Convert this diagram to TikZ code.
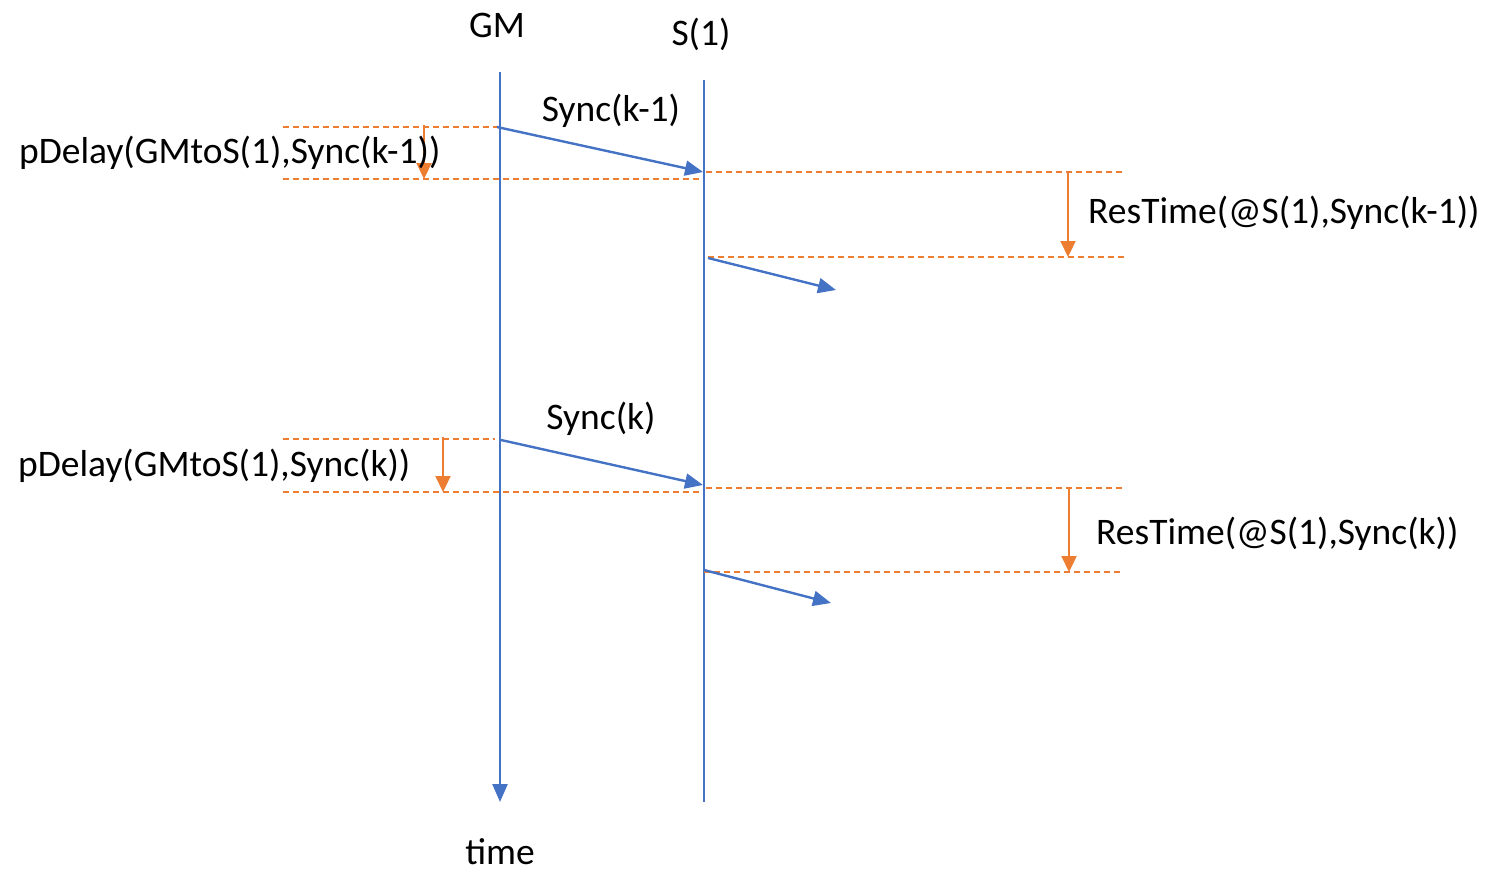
\documentclass[tikz,border=0pt]{standalone}
\usepackage{fontspec}
\setmainfont{Carlito}
\usetikzlibrary{arrows.meta}
\definecolor{lineblue}{HTML}{4472C4}
\definecolor{markorange}{HTML}{ED7D31}
\begin{document}
\begin{tikzpicture}[x=1pt,y=-1pt,
  lbl/.style={font=\fontsize{37.5}{44}\selectfont, inner sep=0pt},
  lifeline/.style={draw=lineblue, line width=2.2pt},
  msg/.style={draw=lineblue, line width=2.4pt, -{Triangle[length=18pt,width=15pt]}},
  guide/.style={draw=markorange, line width=1.3pt, dash pattern=on 6pt off 4pt},
  span/.style={draw=markorange, line width=2.2pt, -{Triangle[length=16pt,width=15pt]}}]
\useasboundingbox (0,0) rectangle (1506,871);

% lifelines
\coordinate (gmtop) at (500,72);
\coordinate (gmbot) at (500,802);
\coordinate (s1top) at (704,80);
\coordinate (s1bot) at (704,802);
\draw[msg] (gmtop) -- (gmbot);
\draw[lifeline] (s1top) -- (s1bot);
\node[lbl] (gm) at (497,25) {GM};
\node[lbl] (s1) at (701,34) {S(1)};
\node[lbl, anchor=base] (time) at (500,864) {time};

% ---- Sync(k-1) ----
\coordinate (a1) at (497,127);
\coordinate (b1) at (703,172);
\draw[msg] (a1) -- (b1);
\node[lbl] (synck1) at (611,111) {Sync(k-1)};

\coordinate (g1l) at (283,127); \coordinate (g1r) at (497,127);
\coordinate (g2l) at (283,179); \coordinate (g2r) at (700,179);
\draw[guide] (g1l) -- (g1r);
\draw[guide] (g2l) -- (g2r);
\coordinate (p1t) at (424,125); \coordinate (p1b) at (424,179);
\draw[span] (p1t) -- (p1b);
\node[lbl, anchor=west] (pd1) at (19,153) {pDelay(GMtoS(1),Sync(k-1))};

\coordinate (g3l) at (706,172); \coordinate (g3r) at (1125,172);
\coordinate (g4l) at (708,257); \coordinate (g4r) at (1127,257);
\draw[guide] (g3l) -- (g3r);
\draw[guide] (g4l) -- (g4r);
\coordinate (r1t) at (1068,172); \coordinate (r1b) at (1068,257);
\draw[span] (r1t) -- (r1b);
\node[lbl, anchor=west] (rt1) at (1088,213) {ResTime(@S(1),Sync(k-1))};

\coordinate (f1s) at (708,258); \coordinate (f1e) at (836,290);
\draw[msg] (f1s) -- (f1e);

% ---- Sync(k) ----
\coordinate (a2) at (501,440);
\coordinate (b2) at (703,485);
\draw[msg] (a2) -- (b2);
\node[lbl] (synck) at (601,419) {Sync(k)};

\coordinate (h1l) at (283,439); \coordinate (h1r) at (495,439);
\coordinate (h2l) at (283,492); \coordinate (h2r) at (700,492);
\draw[guide] (h1l) -- (h1r);
\draw[guide] (h2l) -- (h2r);
\coordinate (p2t) at (443,437); \coordinate (p2b) at (443,492);
\draw[span] (p2t) -- (p2b);
\node[lbl, anchor=west] (pd2) at (18,466) {pDelay(GMtoS(1),Sync(k))};

\coordinate (h3l) at (706,488); \coordinate (h3r) at (1125,488);
\coordinate (h4l) at (704,572); \coordinate (h4r) at (1120,572);
\draw[guide] (h3l) -- (h3r);
\draw[guide] (h4l) -- (h4r);
\coordinate (r2t) at (1069,488); \coordinate (r2b) at (1069,572);
\draw[span] (r2t) -- (r2b);
\node[lbl, anchor=west] (rt2) at (1096,534) {ResTime(@S(1),Sync(k))};

\coordinate (f2s) at (704,570); \coordinate (f2e) at (831,603);
\draw[msg] (f2s) -- (f2e);
\end{tikzpicture}
\end{document}
